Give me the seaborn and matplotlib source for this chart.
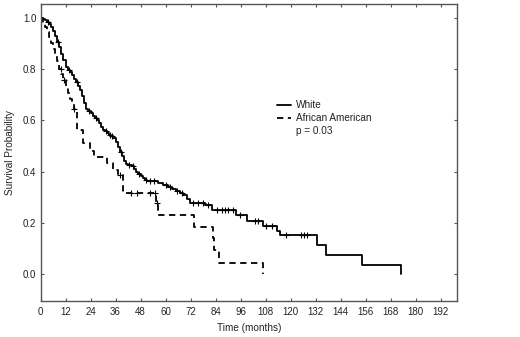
"""Kaplan-Meier survival by race: White vs African American (p = 0.03)."""
import matplotlib
matplotlib.use('Agg')
import matplotlib.pyplot as plt
from matplotlib.lines import Line2D
import numpy as np
import pandas as pd
import seaborn as sns

GROUPS = ['White', 'African American']
P_TEXT = 'p = 0.03'

# step points: survival drops to white_surv[i] at white_time[i]
white_time = [0, 1, 2, 3, 4, 5, 6, 7, 8, 9, 10, 11, 12, 13, 14, 15, 16, 17, 18, 19,
              20, 21, 22, 23, 24, 25, 26, 27, 28, 29, 30, 31, 32, 33, 34, 35, 36, 37,
              38, 39, 40, 41, 42, 43, 44, 45, 46, 47, 48, 49, 50, 51, 56.5, 59, 61, 63,
              65, 67, 68.6, 70.3, 71.9, 79, 82.5, 94, 99, 107, 113.5, 115, 132.8, 136.8,
              154.5, 172.8]
white_surv = [1.0, 0.995, 0.99, 0.985, 0.975, 0.965, 0.948, 0.928, 0.905, 0.885, 0.86,
              0.835, 0.808, 0.797, 0.787, 0.777, 0.762, 0.748, 0.733, 0.718, 0.695, 0.668,
              0.645, 0.636, 0.627, 0.618, 0.609, 0.600, 0.588, 0.575, 0.563, 0.557, 0.55,
              0.543, 0.537, 0.53, 0.515, 0.497, 0.478, 0.46, 0.44, 0.43, 0.427, 0.424,
              0.421, 0.41, 0.40, 0.39, 0.382, 0.374, 0.368, 0.364, 0.356, 0.348, 0.34,
              0.331, 0.324, 0.316, 0.308, 0.292, 0.277, 0.27, 0.25, 0.231, 0.207, 0.19,
              0.17, 0.152, 0.113, 0.075, 0.035, 0.0]
white_censor = [3.5, 8.5, 13.5, 17.5, 23.5, 26.5, 31.5, 33.5, 34.5, 38.5, 42.5, 44.5,
                47.5, 50.5, 52.5, 54.5, 60, 62, 65.4, 67.8, 73, 75.7, 78.1, 80.5, 84.5,
                86.9, 88.4, 90, 92.4, 95.6, 102.7, 104.5, 108.3, 111, 118, 125, 126.5,
                128.1]

aa_time = [0, 1, 2, 3, 4, 5, 6, 7, 8, 9, 10, 11, 12, 13, 14, 15, 16, 17.4, 20.2, 23.8,
           25.5, 32, 35, 37, 39.8, 55.5, 56.2, 73.5, 82.6, 83.2, 85.8, 106.6]
aa_surv = [1.0, 0.985, 0.965, 0.945, 0.925, 0.9, 0.878, 0.855, 0.83, 0.8, 0.78, 0.757,
           0.728, 0.705, 0.683, 0.663, 0.645, 0.562, 0.51, 0.48, 0.458, 0.432, 0.406,
           0.387, 0.318, 0.278, 0.231, 0.183, 0.14, 0.095, 0.043, 0.0]
aa_censor = [9.9, 11.2, 16.2, 38.3, 43.2, 46.4, 52.7, 55.1, 55.8]

X_TICKS = list(range(0, 193, 12))
Y_TICKS = [0.0, 0.2, 0.4, 0.6, 0.8, 1.0]


def km_frames():
    steps, cens = [], []
    for name, t, s, c in [(GROUPS[0], white_time, white_surv, white_censor),
                          (GROUPS[1], aa_time, aa_surv, aa_censor)]:
        t = np.asarray(t, float)
        s = np.asarray(s, float)
        steps.append(pd.DataFrame({'time': t, 'surv': s, 'group': name}))
        c = np.asarray(c, float)
        idx = np.searchsorted(t, c, side='right') - 1
        cens.append(pd.DataFrame({'time': c, 'surv': s[idx], 'group': name}))
    return pd.concat(steps, ignore_index=True), pd.concat(cens, ignore_index=True)


def main():
    sns.set_theme(style='ticks')
    plt.rcParams['font.family'] = ['Liberation Sans', 'DejaVu Sans']

    steps, cens = km_frames()
    dash = (3.5, 2.5)

    fig = plt.figure(figsize=(5.2, 3.37), dpi=100)
    ax = fig.add_axes([0.0779, 0.1077, 0.8015, 0.8795])

    sns.lineplot(data=steps, x='time', y='surv', style='group', style_order=GROUPS,
                 dashes={GROUPS[0]: '', GROUPS[1]: dash}, color='black',
                 estimator=None, sort=False, drawstyle='steps-post', linewidth=1.3,
                 legend=False, ax=ax)
    sns.scatterplot(data=cens, x='time', y='surv', marker='+', color='black', s=20,
                    linewidth=0.8, legend=False, ax=ax, zorder=3)

    ax.set_xlim(0, 200)
    ax.set_ylim(-0.103, 1.052)
    ax.set_xticks(X_TICKS)
    ax.set_yticks(Y_TICKS)
    ax.set_yticklabels([f'{v:.1f}' for v in Y_TICKS])
    ax.tick_params(direction='in', length=2.5, width=0.8, top=True, right=True,
                   labelsize=7, colors='#555555', labelcolor='#222222')
    ax.tick_params(axis='x', pad=4.5)
    ax.tick_params(axis='y', pad=3)
    for sp in ax.spines.values():
        sp.set_color('#555555')
        sp.set_linewidth(1.0)
    ax.set_xlabel('Time (months)', fontsize=7.2, color='#222222', labelpad=4)
    ax.set_ylabel('Survival Probability', fontsize=7.2, color='#222222', labelpad=6)

    handles = [Line2D([], [], color='black', lw=1.3),
               Line2D([], [], color='black', lw=1.3, dashes=dash),
               Line2D([], [], color='none')]
    ax.legend(handles, GROUPS + [P_TEXT], loc='center left',
              bbox_to_anchor=(277 / 520, 1 - 118.3 / 337), bbox_transform=fig.transFigure,
              frameon=False, fontsize=7.2, borderpad=0, borderaxespad=0,
              handlelength=1.35, handletextpad=0.5, labelspacing=0.3,
              labelcolor='#222222')

    fig.savefig('out.png', dpi=100)


if __name__ == '__main__':
    main()
